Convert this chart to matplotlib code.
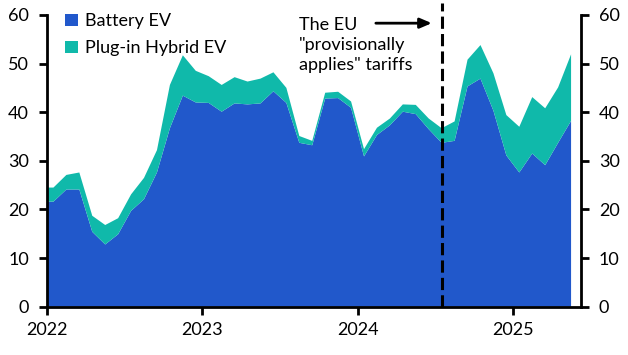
import numpy as np
import matplotlib
matplotlib.use("Agg")
import matplotlib.pyplot as plt

plt.rcParams['font.family'] = ['Lato', 'DejaVu Sans']

# monthly, Jan 2022 .. May 2025
battery = [21.6, 24.1, 24.1, 15.4, 12.8, 14.9, 19.7, 22.1, 27.6, 36.7, 43.4, 42.0,
           41.9, 40.1, 41.8, 41.6, 41.8, 44.3, 41.9, 33.7, 33.2, 42.8, 42.9, 40.9,
           30.9, 35.3, 37.3, 40.1, 39.6, 36.5, 33.7, 34.1, 45.3, 46.9, 40.3, 31.1,
           27.6, 31.5, 29.1, 33.7, 38.2]
total = [24.5, 27.1, 27.6, 18.7, 16.8, 18.2, 23.1, 26.5, 32.2, 45.6, 51.7, 48.5,
         47.4, 45.6, 47.2, 46.3, 46.9, 48.2, 45.0, 35.1, 34.1, 44.0, 44.2, 42.2,
         32.4, 36.8, 38.7, 41.6, 41.5, 38.7, 36.7, 38.1, 50.8, 53.8, 48.0, 39.4,
         37.0, 43.1, 40.8, 45.1, 51.9]
years = ['2022', '2023', '2024', '2025']
tariff_month = 30  # July 2024

battery = np.array(battery)
phev = np.array(total) - battery

# points sit at mid-month; repeat the first value at the left edge
x = np.arange(len(battery)) + 0.5
x = np.r_[0, x]
b = np.r_[battery[0], battery]
p = np.r_[phev[0], phev]

blue = '#2158CB'
teal = '#10B9AA'

fig = plt.figure(figsize=(6.28, 3.55), dpi=100)
ax = fig.add_axes([0.0748, 0.136, 0.850, 0.822])

ax.stackplot(x, b, p, colors=[blue, teal], labels=['Battery EV', 'Plug-in Hybrid EV'],
             linewidth=0)
# dashed marker runs a little above the plot area
ax.plot([tariff_month + 0.5] * 2, [0, 62.5], color='black', lw=2.2,
        ls=(0, (4, 1.7)), zorder=5, clip_on=False)

ax.set_xlim(0, 41.25)
ax.set_ylim(0, 60)
ax.set_yticks(range(0, 61, 10))
ax.set_xticks([12 * i for i in range(len(years))])
ax.set_xticklabels(years)

for s in ['top']:
    ax.spines[s].set_visible(False)
for s in ['left', 'right', 'bottom']:
    ax.spines[s].set_linewidth(2)
ax.tick_params(axis='both', direction='out', width=2, length=6, labelsize=13, colors='black')
ax.tick_params(axis='y', right=True, labelright=True, pad=7)
ax.tick_params(axis='x', pad=5)

ax.legend(loc='upper left', frameon=False, fontsize=13, handlelength=0.7, handleheight=0.7,
          handletextpad=0.4, labelspacing=0.6, borderaxespad=0.0,
          bbox_to_anchor=(0.02, 1.03))

ax.text(19.5, 59.5, 'The EU\n"provisionally\napplies" tariffs', fontsize=13,
        va='top', ha='left', linespacing=1.3)
ax.annotate('', xy=(29.95, 58.3), xytext=(25.2, 58.3),
            arrowprops=dict(arrowstyle='-|>,head_length=0.7,head_width=0.3', color='black', lw=2))

fig.savefig('out.png', dpi=100)
